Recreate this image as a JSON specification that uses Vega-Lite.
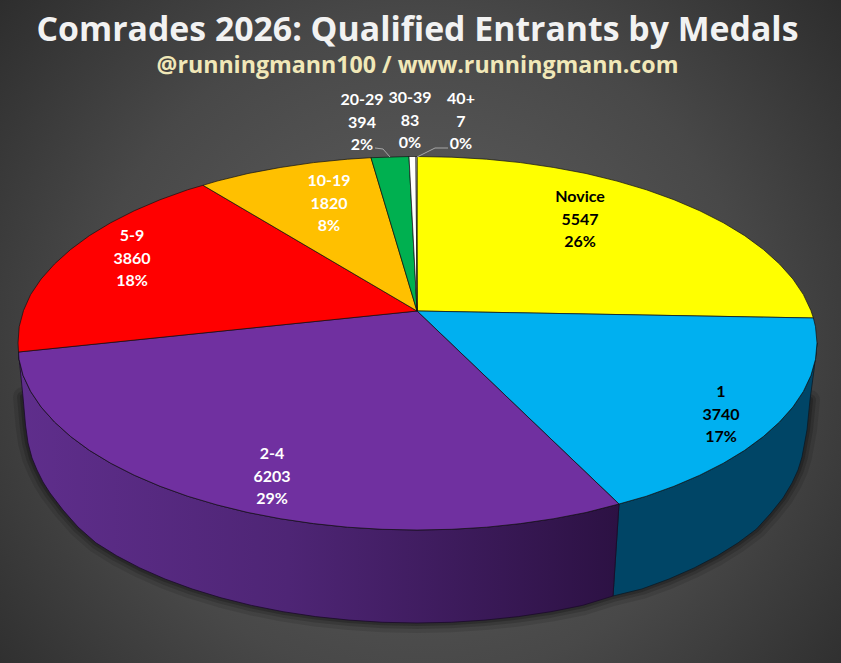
{
  "$schema": "https://vega.github.io/schema/vega-lite/v6.json",
  "width": 841,
  "height": 663,
  "padding": 0,
  "autosize": {"type": "fit", "contains": "padding"},
  "background": "#444444",
  "config": {"view": {"stroke": null}},
  "datasets": {
    "shadow": [
      {"i":0,"x":23,"y":397},{"i":1,"x":25.5,"y":425},{"i":2,"x":28,"y":443},{"i":3,"x":32,"y":458},{"i":4,"x":37,"y":470},{"i":5,"x":43,"y":482},{"i":6,"x":50,"y":493},{"i":7,"x":63,"y":510},{"i":8,"x":78,"y":527},{"i":9,"x":95.9,"y":542.8},{"i":10,"x":116.7,"y":555.8},{"i":11,"x":139.8,"y":567.9},{"i":12,"x":165,"y":579},{"i":13,"x":192.2,"y":589},{"i":14,"x":221,"y":597.8},{"i":15,"x":251.4,"y":605.4},{"i":16,"x":283,"y":611.7},{"i":17,"x":315.6,"y":616.6},{"i":18,"x":349,"y":620.1},{"i":19,"x":382.8,"y":622.3},{"i":20,"x":417,"y":623},{"i":21,"x":451.2,"y":622.3},{"i":22,"x":485,"y":620.1},{"i":23,"x":518.4,"y":616.6},{"i":24,"x":551,"y":611.7},{"i":25,"x":582.6,"y":605.4},{"i":26,"x":613,"y":596},{"i":27,"x":641.8,"y":589},{"i":28,"x":669,"y":579},{"i":29,"x":694.2,"y":567.9},{"i":30,"x":717.3,"y":555.8},{"i":31,"x":738.1,"y":542.8},{"i":32,"x":756.5,"y":529},{"i":33,"x":771,"y":513},{"i":34,"x":783,"y":498},{"i":35,"x":792,"y":483},{"i":36,"x":798,"y":470},{"i":37,"x":802,"y":457},{"i":38,"x":807,"y":430},{"i":39,"x":810,"y":400}
    ],
    "sideBlue": [
      {"i":0,"x":817,"y":343},{"i":1,"x":815.5,"y":359.3},{"i":2,"x":810.9,"y":375.5},{"i":3,"x":803.4,"y":391.4},{"i":4,"x":792.9,"y":407},{"i":5,"x":779.5,"y":422},{"i":6,"x":763.4,"y":436.5},{"i":7,"x":744.7,"y":450.3},{"i":8,"x":723.4,"y":463.2},{"i":9,"x":699.8,"y":475.2},{"i":10,"x":674.1,"y":486.2},{"i":11,"x":646.4,"y":496.2},{"i":12,"x":619,"y":504},
      {"i":13,"x":613,"y":596},{"i":14,"x":641.8,"y":589},{"i":15,"x":669,"y":579},{"i":16,"x":694.2,"y":567.9},{"i":17,"x":717.3,"y":555.8},{"i":18,"x":738.1,"y":542.8},{"i":19,"x":756.5,"y":529},{"i":20,"x":771,"y":513},{"i":21,"x":783,"y":498},{"i":22,"x":792,"y":483},{"i":23,"x":798,"y":470},{"i":24,"x":802,"y":457},{"i":25,"x":807,"y":430},{"i":26,"x":810,"y":400},{"i":27,"x":814,"y":370},{"i":28,"x":817,"y":343}
    ],
    "sidePurple": [
      {"i":0,"x":619,"y":504},{"i":1,"x":586,"y":512.5},{"i":2,"x":553.8,"y":518.7},{"i":3,"x":520.5,"y":523.6},{"i":4,"x":486.5,"y":527.2},{"i":5,"x":451.9,"y":529.3},{"i":6,"x":417,"y":530},{"i":7,"x":382.1,"y":529.3},{"i":8,"x":347.5,"y":527.2},{"i":9,"x":313.5,"y":523.6},{"i":10,"x":280.2,"y":518.7},{"i":11,"x":248,"y":512.5},{"i":12,"x":217,"y":504.9},{"i":13,"x":187.6,"y":496.2},{"i":14,"x":159.9,"y":486.2},{"i":15,"x":134.2,"y":475.2},{"i":16,"x":110.6,"y":463.2},{"i":17,"x":89.3,"y":450.3},{"i":18,"x":70.6,"y":436.5},{"i":19,"x":54.5,"y":422},{"i":20,"x":41.1,"y":407},{"i":21,"x":30.6,"y":391.4},{"i":22,"x":23.1,"y":375.5},{"i":23,"x":19,"y":359.3},{"i":24,"x":18.5,"y":352},
      {"i":25,"x":23,"y":397},{"i":26,"x":25.5,"y":425},{"i":27,"x":28,"y":443},{"i":28,"x":32,"y":458},{"i":29,"x":37,"y":470},{"i":30,"x":43,"y":482},{"i":31,"x":50,"y":493},{"i":32,"x":63,"y":510},{"i":33,"x":78,"y":527},{"i":34,"x":95.9,"y":542.8},{"i":35,"x":116.7,"y":555.8},{"i":36,"x":139.8,"y":567.9},{"i":37,"x":165,"y":579},{"i":38,"x":192.2,"y":589},{"i":39,"x":221,"y":597.8},{"i":40,"x":251.4,"y":605.4},{"i":41,"x":283,"y":611.7},{"i":42,"x":315.6,"y":616.6},{"i":43,"x":349,"y":620.1},{"i":44,"x":382.8,"y":622.3},{"i":45,"x":417,"y":623},{"i":46,"x":451.2,"y":622.3},{"i":47,"x":485,"y":620.1},{"i":48,"x":518.4,"y":616.6},{"i":49,"x":551,"y":611.7},{"i":50,"x":582.6,"y":605.4},{"i":51,"x":613,"y":596},{"i":52,"x":619,"y":504}
    ],
    "slices": [
      {"medals":"Novice","i":0,"x":417,"y":311},{"medals":"Novice","i":1,"x":417,"y":156.5},{"medals":"Novice","i":2,"x":451.9,"y":157.2},{"medals":"Novice","i":3,"x":486.5,"y":159.2},{"medals":"Novice","i":4,"x":520.5,"y":162.6},{"medals":"Novice","i":5,"x":553.8,"y":167.5},{"medals":"Novice","i":6,"x":586,"y":173.5},{"medals":"Novice","i":7,"x":617,"y":181.1},{"medals":"Novice","i":8,"x":646.4,"y":189.8},{"medals":"Novice","i":9,"x":674.1,"y":199.8},{"medals":"Novice","i":10,"x":699.8,"y":210.8},{"medals":"Novice","i":11,"x":723.4,"y":222.8},{"medals":"Novice","i":12,"x":744.7,"y":235.7},{"medals":"Novice","i":13,"x":763.4,"y":249.5},{"medals":"Novice","i":14,"x":779.5,"y":264},{"medals":"Novice","i":15,"x":792.9,"y":279},{"medals":"Novice","i":16,"x":803.4,"y":294.6},{"medals":"Novice","i":17,"x":810.9,"y":310.5},{"medals":"Novice","i":18,"x":813.4,"y":318},{"medals":"Novice","i":19,"x":417,"y":311},
      {"medals":"1","i":0,"x":417,"y":311},{"medals":"1","i":1,"x":813.4,"y":318},{"medals":"1","i":2,"x":815.5,"y":326.7},{"medals":"1","i":3,"x":817,"y":343},{"medals":"1","i":4,"x":815.5,"y":359.3},{"medals":"1","i":5,"x":810.9,"y":375.5},{"medals":"1","i":6,"x":803.4,"y":391.4},{"medals":"1","i":7,"x":792.9,"y":407},{"medals":"1","i":8,"x":779.5,"y":422},{"medals":"1","i":9,"x":763.4,"y":436.5},{"medals":"1","i":10,"x":744.7,"y":450.3},{"medals":"1","i":11,"x":723.4,"y":463.2},{"medals":"1","i":12,"x":699.8,"y":475.2},{"medals":"1","i":13,"x":674.1,"y":486.2},{"medals":"1","i":14,"x":646.4,"y":496.2},{"medals":"1","i":15,"x":619,"y":504},{"medals":"1","i":16,"x":417,"y":311},
      {"medals":"2-4","i":0,"x":417,"y":311},{"medals":"2-4","i":1,"x":619,"y":504},{"medals":"2-4","i":2,"x":586,"y":512.5},{"medals":"2-4","i":3,"x":553.8,"y":518.7},{"medals":"2-4","i":4,"x":520.5,"y":523.6},{"medals":"2-4","i":5,"x":486.5,"y":527.2},{"medals":"2-4","i":6,"x":451.9,"y":529.3},{"medals":"2-4","i":7,"x":417,"y":530},{"medals":"2-4","i":8,"x":382.1,"y":529.3},{"medals":"2-4","i":9,"x":347.5,"y":527.2},{"medals":"2-4","i":10,"x":313.5,"y":523.6},{"medals":"2-4","i":11,"x":280.2,"y":518.7},{"medals":"2-4","i":12,"x":248,"y":512.5},{"medals":"2-4","i":13,"x":217,"y":504.9},{"medals":"2-4","i":14,"x":187.6,"y":496.2},{"medals":"2-4","i":15,"x":159.9,"y":486.2},{"medals":"2-4","i":16,"x":134.2,"y":475.2},{"medals":"2-4","i":17,"x":110.6,"y":463.2},{"medals":"2-4","i":18,"x":89.3,"y":450.3},{"medals":"2-4","i":19,"x":70.6,"y":436.5},{"medals":"2-4","i":20,"x":54.5,"y":422},{"medals":"2-4","i":21,"x":41.1,"y":407},{"medals":"2-4","i":22,"x":30.6,"y":391.4},{"medals":"2-4","i":23,"x":23.1,"y":375.5},{"medals":"2-4","i":24,"x":19,"y":359.3},{"medals":"2-4","i":25,"x":18.5,"y":352},{"medals":"2-4","i":26,"x":417,"y":311},
      {"medals":"5-9","i":0,"x":417,"y":311},{"medals":"5-9","i":1,"x":18.5,"y":352},{"medals":"5-9","i":2,"x":18,"y":343},{"medals":"5-9","i":3,"x":19.2,"y":326.7},{"medals":"5-9","i":4,"x":23.5,"y":310.5},{"medals":"5-9","i":5,"x":30.6,"y":294.6},{"medals":"5-9","i":6,"x":41.1,"y":279},{"medals":"5-9","i":7,"x":54.5,"y":264},{"medals":"5-9","i":8,"x":70.6,"y":249.5},{"medals":"5-9","i":9,"x":89.3,"y":235.7},{"medals":"5-9","i":10,"x":110.6,"y":222.8},{"medals":"5-9","i":11,"x":134.2,"y":210.8},{"medals":"5-9","i":12,"x":159.9,"y":199.8},{"medals":"5-9","i":13,"x":187.6,"y":189.8},{"medals":"5-9","i":14,"x":203,"y":185.3},{"medals":"5-9","i":15,"x":417,"y":311},
      {"medals":"10-19","i":0,"x":417,"y":311},{"medals":"10-19","i":1,"x":203,"y":185.3},{"medals":"10-19","i":2,"x":217,"y":181.1},{"medals":"10-19","i":3,"x":248,"y":173.5},{"medals":"10-19","i":4,"x":280.2,"y":167.5},{"medals":"10-19","i":5,"x":313.5,"y":162.6},{"medals":"10-19","i":6,"x":347.5,"y":159.2},{"medals":"10-19","i":7,"x":371,"y":157.7},{"medals":"10-19","i":8,"x":417,"y":311},
      {"medals":"20-29","i":0,"x":417,"y":311},{"medals":"20-29","i":1,"x":371,"y":157.7},{"medals":"20-29","i":2,"x":409,"y":156.5},{"medals":"20-29","i":3,"x":417,"y":311},
      {"medals":"30-39","i":0,"x":417,"y":311},{"medals":"30-39","i":1,"x":409,"y":156.5},{"medals":"30-39","i":2,"x":416,"y":156.5},{"medals":"30-39","i":3,"x":417,"y":311},
      {"medals":"40+","i":0,"x":417,"y":311},{"medals":"40+","i":1,"x":416,"y":156.5},{"medals":"40+","i":2,"x":417,"y":156.5},{"medals":"40+","i":3,"x":417,"y":311}
    ],
    "leaders": [
      {"medals":"20-29","i":0,"x":375,"y":148},{"medals":"20-29","i":1,"x":383,"y":149},{"medals":"20-29","i":2,"x":390,"y":157},
      {"medals":"40+","i":0,"x":448,"y":148},{"medals":"40+","i":1,"x":435,"y":148},{"medals":"40+","i":2,"x":417,"y":157}
    ],
    "labels": [
      {"medals":"Novice","label":"Novice\n5547\n26%","x":580,"y":197},
      {"medals":"1","label":"1\n3740\n17%","x":721,"y":392},
      {"medals":"2-4","label":"2-4\n6203\n29%","x":272,"y":454},
      {"medals":"5-9","label":"5-9\n3860\n18%","x":132,"y":236},
      {"medals":"10-19","label":"10-19\n1820\n8%","x":329,"y":181},
      {"medals":"20-29","label":"20-29\n394\n2%","x":362,"y":100},
      {"medals":"30-39","label":"30-39\n83\n0%","x":410,"y":98},
      {"medals":"40+","label":"40+\n7\n0%","x":461,"y":99}
    ]
  },
  "data": {"name": "slices"},
  "encoding": {
    "x": {"field": "x", "type": "quantitative", "scale": {"domain": [0, 841], "nice": false, "zero": false}, "axis": null},
    "y": {"field": "y", "type": "quantitative", "scale": {"domain": [663, 0], "nice": false, "zero": false}, "axis": null}
  },
  "layer": [
    {
      "data": {"values": [{"x": 0, "y": 0, "x2": 841, "y2": 663}]},
      "mark": {
        "type": "rect",
        "color": {
          "gradient": "radial", "x1": 0.5, "y1": 0.52, "r1": 0, "x2": 0.5, "y2": 0.52, "r2": 0.72,
          "stops": [{"offset": 0, "color": "#626262"}, {"offset": 0.55, "color": "#484848"}, {"offset": 1, "color": "#262626"}]
        }
      },
      "encoding": {"x2": {"field": "x2"}, "y2": {"field": "y2"}}
    },
    {
      "data": {"name": "shadow"},
      "mark": {"type": "line", "stroke": "#000000", "strokeWidth": 20, "strokeOpacity": 0.1, "strokeCap": "round", "strokeJoin": "round"},
      "encoding": {"order": {"field": "i", "type": "quantitative"}}
    },
    {
      "data": {"name": "shadow"},
      "mark": {"type": "line", "stroke": "#000000", "strokeWidth": 12, "strokeOpacity": 0.15, "strokeCap": "round", "strokeJoin": "round"},
      "encoding": {"order": {"field": "i", "type": "quantitative"}}
    },
    {
      "data": {"name": "shadow"},
      "mark": {"type": "line", "stroke": "#000000", "strokeWidth": 6, "strokeOpacity": 0.2, "strokeCap": "round", "strokeJoin": "round"},
      "encoding": {"order": {"field": "i", "type": "quantitative"}}
    },
    {
      "data": {"name": "sideBlue"},
      "mark": {"type": "line", "filled": true, "color": "#004566", "stroke": "#0b1a26", "strokeWidth": 0.8, "strokeJoin": "round"},
      "encoding": {"order": {"field": "i", "type": "quantitative"}}
    },
    {
      "data": {"name": "sidePurple"},
      "mark": {
        "type": "line", "filled": true, "stroke": "#1a0a2a", "strokeWidth": 0.8, "strokeJoin": "round",
        "color": {
          "gradient": "linear", "x1": 0, "y1": 0, "x2": 1, "y2": 0,
          "stops": [{"offset": 0, "color": "#5f2e8c"}, {"offset": 0.45, "color": "#4e2575"}, {"offset": 1, "color": "#2c1143"}]
        }
      },
      "encoding": {"order": {"field": "i", "type": "quantitative"}}
    },
    {
      "mark": {"type": "line", "filled": true, "stroke": "#111111", "strokeWidth": 0.7, "strokeJoin": "round"},
      "encoding": {
        "order": {"field": "i", "type": "quantitative"},
        "color": {
          "field": "medals", "type": "nominal", "legend": null,
          "scale": {
            "domain": ["Novice", "1", "2-4", "5-9", "10-19", "20-29", "30-39", "40+"],
            "range": ["#FFFF00", "#00B0F0", "#7030A0", "#FF0000", "#FFC000", "#00B050", "#FFFFFF", "#FFFFFF"]
          }
        }
      }
    },
    {
      "data": {"name": "leaders"},
      "mark": {"type": "line", "stroke": "#a6a6a6", "strokeWidth": 1},
      "encoding": {"detail": {"field": "medals"}, "order": {"field": "i", "type": "quantitative"}}
    },
    {
      "data": {"name": "labels"},
      "mark": {"type": "text", "font": "Lato", "fontWeight": "bold", "fontSize": 16, "lineBreak": "\n", "lineHeight": 22.7, "align": "center", "baseline": "middle"},
      "encoding": {
        "text": {"field": "label"},
        "color": {
          "condition": {"test": "datum.medals === 'Novice' || datum.medals === '1'", "value": "#000000"},
          "value": "#FFFFFF"
        }
      }
    },
    {
      "data": {"values": [{"x": 417.5, "y": 31, "label": "Comrades 2026: Qualified Entrants by Medals"}]},
      "mark": {"type": "text", "font": "Open Sans", "fontWeight": "bold", "fontSize": 33.8, "align": "center", "baseline": "middle", "color": "#F2F2F2"},
      "encoding": {"text": {"field": "label"}}
    },
    {
      "data": {"values": [{"x": 417.5, "y": 66, "label": "@runningmann100 / www.runningmann.com"}]},
      "mark": {"type": "text", "font": "Open Sans", "fontWeight": "bold", "fontSize": 23.2, "align": "center", "baseline": "middle", "color": "#F1E8B8"},
      "encoding": {"text": {"field": "label"}}
    }
  ]
}
